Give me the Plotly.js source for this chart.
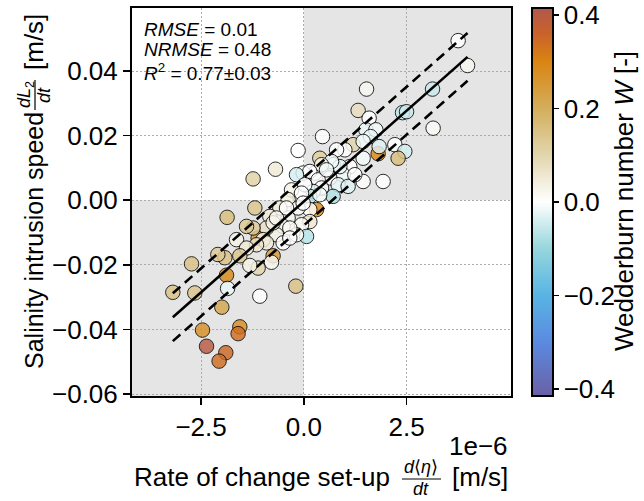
<!DOCTYPE html>
<html>
<head>
<meta charset="utf-8">
<script src="https://cdn.plot.ly/plotly-3.0.1.min.js"></script>
<style>html,body{margin:0;padding:0;background:#fff;}#chart{width:644px;height:501px;}</style>
</head>
<body>
<div id="chart"></div>
<script>
// Rate of change set-up d<eta>/dt, in units of 1e-6 m/s
const setupRate = [1.808,0.309,-1.112,-0.747,
3.754,3.983,3.131,1.526,1.321,2.401,2.499,1.589,3.146,0.455,1.509,1.752,1.623,1.2,0.998,1.832,2.214,2.457,2.294,
-0.139,0.389,-0.689,-1.234,1.443,1.929,0.713,1.443,1.119,0.956,0.633,0.268,-0.017,1.443,0.796,0.876,0.835,
0.674,0.431,0.146,-0.178,0.348,1.078,0.713,0.431,0.226,0.146,-0.097,-0.299,0.024,-0.382,0.146,-0.139,-0.584,
-0.827,-0.382,0.146,-0.056,0.066,-0.178,-0.504,-0.664,-0.908,-1.192,-1.234,-0.990,-0.504,-1.866,-1.394,-1.637,
-0.747,-0.421,-0.908,-1.151,-1.394,-1.557,-1.922,-2.092,-2.732,-0.786,-1.112,-1.314,-1.881,-1.854,-1.071,
-3.187,-2.652,-1.995,-0.195,-2.465,-1.557,-1.599,-2.367,-1.898,-2.061,0.552,1.241,0.389,-0.056,-0.017,-0.341,
-0.341,-0.664];
// Salinity intrusion speed dL2/dt [m/s]
const intrusionSpeed = [0.0144,-0.0029,-0.0117,-0.0172,
0.0494,0.0417,0.0344,0.0344,0.0278,0.0271,0.0274,0.0254,0.0223,0.0197,0.0218,0.0218,0.0197,0.0172,0.0156,0.0166,0.0172,0.0151,0.0130,
0.0154,0.0130,0.0096,0.0066,0.0058,0.0058,0.0110,0.0130,0.0104,0.0079,0.0069,0.0084,0.0084,0.0182,0.0156,0.0104,0.0048,
0.0120,0.0110,0.0089,0.0079,0.0063,0.0043,0.0012,0.0038,0.0027,0.0012,0.0012,0.0032,0.0048,0.0002,-0.0029,-0.0024,-0.0024,
-0.0050,-0.0055,-0.0066,-0.0076,-0.0112,-0.0107,-0.0081,-0.0107,-0.0086,-0.0024,-0.0086,-0.0122,-0.0132,-0.0053,-0.0081,-0.0122,
-0.0070,-0.0024,-0.0132,-0.0138,-0.0148,-0.0172,-0.0178,-0.0168,-0.0197,-0.0192,-0.0210,-0.0202,-0.0232,-0.0273,-0.0297,
-0.0285,-0.0287,-0.0331,-0.0266,-0.0402,-0.0392,-0.0413,-0.0452,-0.0472,-0.0498,0.0094,0.0079,0.0017,0.0022,-0.0009,-0.0086,
-0.0117,-0.0055];
// Wedderburn number W [-]
const wedderburn = [0.29,0.29,0.26,0.25,
0.0,0.02,-0.05,0.02,0.08,-0.06,-0.05,0.0,0.01,0.0,-0.02,-0.01,-0.02,0.10,0.0,-0.03,0.0,-0.04,0.16,
0.0,0.12,0.05,0.11,0.0,0.0,-0.02,-0.01,0.0,-0.01,0.0,0.0,0.0,-0.01,0.0,-0.02,-0.02,
-0.01,0.03,0.0,-0.04,0.0,-0.03,-0.07,-0.01,-0.02,-0.07,0.0,0.03,0.0,0.04,0.0,0.01,0.04,
0.05,0.02,0.06,0.01,-0.07,0.01,0.02,0.03,0.07,0.14,0.13,0.04,0.0,0.16,0.13,0.03,
0.03,0.0,0.05,0.06,0.05,0.14,0.15,0.13,0.15,0.02,0.10,0.03,0.29,-0.02,0.0,
0.15,0.14,0.22,0.15,0.27,0.28,0.34,0.40,0.35,0.34,-0.01,0.0,-0.01,0.0,0.0,0.01,
0.0,0.02];

// Regression fit and band
const fitSlope = 0.01124;      // m/s per 1e-6 m/s
const fitIntercept = -0.0004;
const fitBand = 0.0074;
const statsLines = ["<i>RMSE</i> = 0.01", "<i>NRMSE</i> = 0.48", "<i>R</i><sup>2</sup> = 0.77±0.03"];

const xTicks = [-2.5, 0, 2.5], xTickText = ["−2.5", "0.0", "2.5"];
const yTicks = [-0.06, -0.04, -0.02, 0, 0.02, 0.04];
const yTickText = ["−0.06", "−0.04", "−0.02", "0.00", "0.02", "0.04"];
const cTicks = [-0.4, -0.2, 0, 0.2, 0.4], cTickText = ["−0.4", "−0.2", "0.0", "0.2", "0.4"];

const xRange = [-4.18, 5.04], yRange = [-0.0606, 0.0595], cRange = [-0.415, 0.415];

const FONT = "Liberation Sans, Arial, Helvetica, sans-serif";

const colorscale = [
  [0.0, "#6b60a6"], [0.139, "#5b8ae0"], [0.259, "#58b4e4"], [0.38, "#96d6dc"],
  [0.5, "#ffffff"], [0.62, "#e2d6ae"], [0.741, "#d4ae5c"], [0.861, "#d98512"],
  [0.934, "#c9622a"], [1.0, "#b0584c"]
];

const xMin = Math.min(...setupRate), xMax = Math.max(...setupRate);
const lineX = [xMin, xMax];
const lineY = lineX.map(x => fitSlope * x + fitIntercept);

const tickFont = {family: FONT, size: 26, color: "#000"};

const traces = [
  {
    type: "scatter", mode: "markers", x: setupRate, y: intrusionSpeed,
    marker: {
      size: 14.5, color: wedderburn, colorscale: colorscale, cmin: cRange[0], cmax: cRange[1],
      opacity: 0.82, line: {color: "#000", width: 1},
      colorbar: {
        x: 1.0554, xanchor: "left", xpad: 0, y: 0.5, yanchor: "middle", ypad: 0,
        len: 1, lenmode: "fraction", thickness: 21, outlinewidth: 2, outlinecolor: "#000",
        ticks: "outside", ticklen: 5, tickwidth: 1.5, tickcolor: "#000",
        tickvals: cTicks, ticktext: cTickText, tickfont: tickFont
      }
    },
    showlegend: false, hoverinfo: "skip"
  },
  {type: "scatter", mode: "lines", x: lineX, y: lineY, line: {color: "#000", width: 2.6}, showlegend: false},
  {type: "scatter", mode: "lines", x: lineX, y: lineY.map(v => v + fitBand), line: {color: "#000", width: 2.6, dash: "10px,6px"}, showlegend: false},
  {type: "scatter", mode: "lines", x: lineX, y: lineY.map(v => v - fitBand), line: {color: "#000", width: 2.6, dash: "10px,6px"}, showlegend: false}
];

const axisCommon = {
  ticks: "outside", ticklen: 7, tickwidth: 1.5, tickcolor: "#000",
  showline: true, linewidth: 2, linecolor: "#000", mirror: true,
  showgrid: true, gridcolor: "#ababab", gridwidth: 1, griddash: "1.5px,2.5px",
  zeroline: false, tickfont: tickFont
};

// helper: position in page pixels -> paper coordinates (plot area 132..511 x 8..396)
const PX = px => (px - 132) / 379;
const PY = py => (396 - py) / 388;
const ann = (px, py, text, opts) => Object.assign({xref: "paper", yref: "paper", x: PX(px), y: PY(py), text: text, showarrow: false,
  xanchor: "center", yanchor: "middle", font: {family: FONT, size: 26, color: "#000"}}, opts || {});
const small = {family: FONT, size: 18, color: "#000"};
const statFont = {family: FONT, size: 19, color: "#000"};

const layout = {
  width: 644, height: 501,
  margin: {l: 132, r: 133, t: 8, b: 105, pad: 0},
  paper_bgcolor: "#fff", plot_bgcolor: "#fff",
  xaxis: Object.assign({range: xRange, tickvals: xTicks, ticktext: xTickText}, axisCommon),
  yaxis: Object.assign({range: yRange, tickvals: yTicks, ticktext: yTickText}, axisCommon),
  shapes: [
    {type: "rect", xref: "x", yref: "y", x0: 0, x1: xRange[1], y0: 0, y1: yRange[1], fillcolor: "#e5e5e5", line: {width: 0}, layer: "below"},
    {type: "rect", xref: "x", yref: "y", x0: xRange[0], x1: 0, y0: yRange[0], y1: 0, fillcolor: "#e5e5e5", line: {width: 0}, layer: "below"},
    {type: "line", xref: "paper", yref: "paper", x0: PX(35), x1: PX(35), y0: PY(110), y1: PY(80), line: {color: "#000", width: 1.2}},
    {type: "line", xref: "paper", yref: "paper", x0: PX(402), x1: PX(441), y0: PY(479), y1: PY(479), line: {color: "#000", width: 1.2}}
  ],
  annotations: [
    ann(142, 29, statsLines[0], {xanchor: "left", font: statFont}),
    ann(142, 50, statsLines[1], {xanchor: "left", font: statFont}),
    ann(142, 72, statsLines[2], {xanchor: "left", font: statFont}),
    ann(34, 241, "Salinity intrusion speed", {textangle: -90, font: {family: FONT, size: 25, color: "#000"}}),
    ann(26, 95, "<i>dL</i><sub>2</sub>", {textangle: -90, font: small}),
    ann(44, 95, "<i>dt</i>", {textangle: -90, font: small}),
    ann(34, 42, "[m/s]", {textangle: -90}),
    ann(262, 477, "Rate of change set-up"),
    ann(421, 467, "<i>d</i>⟨<i>η</i>⟩", {font: small}),
    ann(421, 489, "<i>dt</i>", {font: small}),
    ann(480, 477, "[m/s]"),
    ann(510, 446, "1e−6", {xanchor: "right"}),
    ann(624, 201, "Wedderburn number <i>W</i> [-]", {textangle: -90})
  ]
};

Plotly.newPlot("chart", traces, layout, {staticPlot: true, displayModeBar: false});
</script>
</body>
</html>
